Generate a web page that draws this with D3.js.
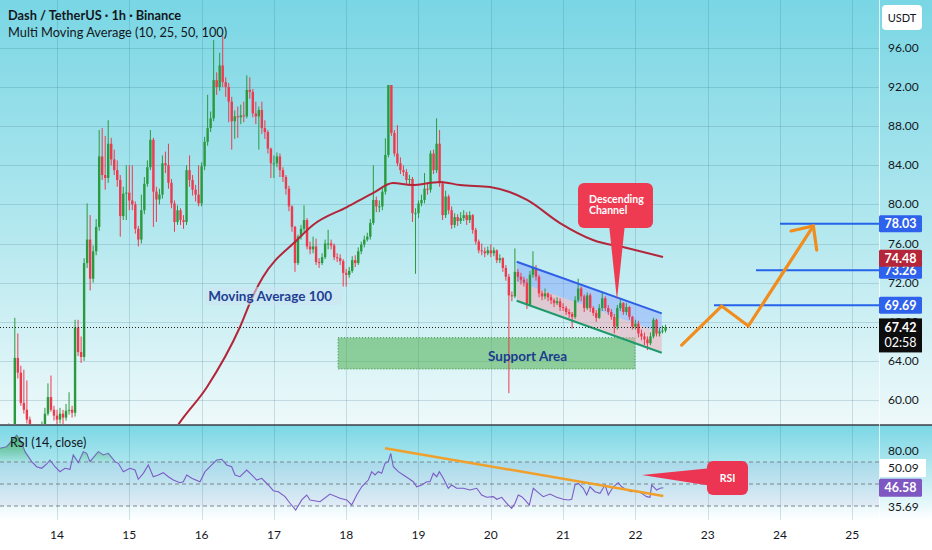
<!DOCTYPE html>
<html>
<head>
<meta charset="utf-8">
<script src="https://cdn.jsdelivr.net/npm/d3@7"></script>
<style>
html, body { margin: 0; padding: 0; background: #fff; overflow: hidden; }
svg { display: block; font-family: Lato, "Noto Sans", sans-serif; }
</style>
</head>
<body>
<svg id="chart" width="932" height="550"></svg>
<script>
// time is in days of the month (14 = day 14, 00:00), one candle per hour
const startTime = 13 + 5 / 24;
const firstOpen = 56.8;

const closes = [
  // day 13 (05:00 - 23:00)
  56.5, 57.0, 56.8, 57.2, 57.0, 64.3, 62.8, 59.7, 59.0, 58.0, 57.0, 56.5, 56.2, 56.8, 57.2, 58.6, 60.3, 59.0, 58.4,
  // day 14
  58.0, 58.6, 58.2, 58.9, 59.0, 58.7, 67.4, 64.9, 64.4, 74.0, 76.4, 72.4, 75.2, 77.7, 84.9, 83.0, 82.7, 86.2, 84.6, 83.5, 82.5, 78.8, 81.1, 81.2,
  // day 15
  80.4, 80.0, 77.5, 76.4, 79.4, 82.1, 83.8, 86.6, 81.3, 80.5, 81.0, 84.2, 84.0, 82.2, 80.1, 78.2, 79.4, 78.4, 78.2, 83.5, 82.5, 81.5, 81.0, 80.1,
  // day 16
  83.9, 86.4, 87.8, 88.8, 92.7, 92.0, 94.2, 92.5, 92.0, 90.5, 88.5, 89.0, 88.9, 89.1, 89.0, 91.7, 91.5, 89.3, 89.0, 89.65, 87.8, 87.4, 85.7, 84.2,
  // day 17
  84.2, 84.9, 83.5, 82.8, 81.6, 79.8, 77.7, 74.0, 76.7, 77.5, 78.4, 75.7, 75.4, 75.7, 74.1, 74.0, 74.6, 76.0, 76.0, 75.8, 74.6, 74.5, 74.2, 73.0,
  // day 18
  72.8, 73.2, 74.3, 74.0, 75.2, 75.9, 76.4, 76.7, 78.1, 80.45, 79.8, 79.8, 81.3, 85.05, 92.2, 87.3, 85.2, 84.2, 83.5, 83.3, 82.5, 82.6, 79.1, 79.1,
  // day 19
  80.1, 80.45, 81.6, 81.5, 85.2, 83.5, 86.2, 82.15, 78.9, 80.8, 79.4, 77.9, 78.7, 78.3, 78.6, 78.9, 78.4, 78.9, 77.4, 76.2, 75.3, 75.2, 75.0, 75.3,
  // day 20
  75.0, 75.3, 74.3, 74.5, 73.5, 72.6, 70.7, 70.6, 73.1, 72.6, 72.3, 72.0, 69.7, 72.8, 73.5, 72.6, 70.9, 70.6, 70.9, 70.5, 70.2, 69.9, 70.1, 69.5,
  // day 21
  69.4, 69.0, 68.8, 68.5, 70.2, 71.4, 70.6, 69.4, 70.7, 69.4, 68.9, 68.4, 69.4, 70.4, 69.4, 69.0, 68.5, 67.5, 69.4, 69.9, 69.0, 69.5, 68.5, 67.5,
  // day 22 (00:00 - 10:00)
  67.8, 66.8, 66.5, 66.2, 65.8, 66.5, 68.2, 66.8, 67.0, 67.1, 67.42
];
const highs = [
  57.2, 57.4, 57.3, 57.6, 57.5, 68.4, 66.8, 63.5, 63.1, 62.0, 58.3, 57.3, 56.8, 57.2, 57.8, 59.2, 61.7, 62.5, 59.4,
  59.0, 59.2, 59.0, 59.6, 60.8, 59.4, 68.2, 68.2, 66.5, 74.5, 80.1, 78.9, 75.8, 78.5, 87.6, 87.8, 87.0, 88.6, 86.8, 85.6, 84.5, 83.0, 81.8, 84.0,
  84.0, 84.0, 80.3, 77.8, 81.0, 82.8, 84.5, 87.6, 86.8, 81.8, 81.6, 85.0, 85.4, 86.2, 82.6, 80.4, 79.9, 79.6, 78.9, 84.0, 85.0, 83.0, 82.0, 84.0,
  84.3, 86.9, 91.2, 89.5, 96.8, 93.5, 95.5, 97.2, 93.0, 92.4, 91.0, 89.6, 90.0, 90.2, 90.5, 93.2, 93.0, 91.8, 90.5, 90.0, 90.5, 88.6, 87.6, 85.8,
  85.0, 85.3, 85.2, 83.8, 83.0, 81.9, 79.9, 77.8, 76.9, 77.9, 79.9, 78.6, 76.2, 76.7, 76.5, 74.5, 75.0, 76.4, 77.4, 76.4, 76.0, 75.0, 74.9, 74.4,
  73.4, 73.6, 74.7, 74.8, 75.6, 76.2, 76.8, 77.1, 78.5, 84.0, 80.8, 80.4, 81.8, 86.75, 92.2, 92.2, 87.6, 88.1, 84.8, 84.0, 83.6, 83.0, 82.8, 79.6,
  80.4, 81.0, 83.2, 82.2, 85.5, 85.6, 88.8, 87.6, 82.4, 81.4, 81.0, 79.8, 79.1, 79.0, 79.2, 79.4, 79.2, 79.3, 79.0, 77.6, 76.4, 76.0, 75.6, 75.7,
  75.9, 75.6, 75.4, 74.9, 74.6, 73.8, 72.9, 71.1, 75.5, 73.4, 73.0, 72.6, 72.4, 73.2, 75.2, 73.8, 72.8, 71.2, 71.4, 71.0, 70.8, 70.4, 70.5, 70.4,
  69.9, 69.6, 69.3, 69.0, 70.6, 72.4, 71.6, 70.8, 71.0, 70.9, 69.6, 69.2, 69.8, 71.1, 70.6, 69.7, 69.3, 68.8, 69.7, 70.4, 70.0, 69.9, 69.6, 68.6,
  68.2, 68.1, 67.2, 66.9, 66.5, 66.9, 68.4, 68.3, 67.4, 67.6, 67.7
];
const lows = [
  56.0, 56.3, 56.5, 56.6, 56.8, 56.8, 62.2, 59.4, 58.6, 57.6, 56.6, 56.2, 55.9, 56.0, 56.6, 57.0, 58.4, 58.8, 57.9,
  57.3, 57.6, 57.4, 57.9, 58.5, 58.2, 58.3, 64.5, 63.8, 64.0, 73.5, 71.2, 72.0, 74.8, 77.3, 82.5, 81.5, 82.2, 84.0, 83.0, 81.8, 76.7, 78.4, 78.4,
  79.4, 79.4, 77.0, 75.7, 76.0, 79.0, 81.8, 83.5, 77.7, 78.2, 80.0, 80.6, 83.2, 81.6, 79.6, 77.2, 77.9, 77.9, 77.5, 77.9, 81.8, 80.9, 80.3, 79.8,
  79.8, 83.5, 86.0, 87.4, 88.5, 91.2, 91.6, 92.0, 91.0, 88.4, 85.6, 86.7, 86.8, 88.2, 88.4, 88.8, 90.8, 88.9, 88.2, 85.6, 87.2, 86.7, 85.2, 82.7,
  82.7, 83.8, 82.8, 82.3, 81.0, 79.3, 77.2, 73.1, 73.8, 76.4, 77.2, 75.4, 74.9, 75.0, 73.8, 73.5, 73.8, 74.4, 75.4, 75.4, 74.3, 74.1, 73.8, 71.6,
  71.6, 72.5, 73.0, 73.6, 73.8, 74.9, 75.6, 76.2, 76.4, 77.9, 79.2, 79.2, 79.4, 81.0, 84.8, 87.0, 84.9, 83.9, 83.1, 82.9, 82.1, 81.9, 78.2, 72.9,
  78.6, 79.8, 80.1, 81.0, 81.2, 83.1, 83.2, 81.8, 78.4, 78.6, 79.0, 77.5, 77.6, 77.8, 78.0, 78.3, 77.9, 78.1, 77.0, 75.9, 75.0, 74.8, 74.6, 74.8,
  74.6, 74.7, 74.0, 74.0, 73.1, 72.2, 60.7, 70.1, 70.4, 72.1, 71.8, 71.6, 69.3, 69.6, 72.5, 72.2, 70.5, 70.2, 70.3, 70.1, 69.8, 69.5, 69.7, 69.1,
  69.1, 68.7, 68.4, 67.3, 68.3, 70.0, 70.1, 69.0, 69.2, 69.0, 68.6, 68.0, 68.3, 69.1, 69.1, 68.7, 68.2, 66.8, 67.2, 69.1, 68.7, 68.7, 68.2, 67.2,
  67.2, 66.4, 66.1, 65.6, 65.1, 65.6, 66.3, 66.5, 66.5, 66.8, 66.9
];

// Moving Average 100
const maTimes  = [15.55, 15.674, 16.075, 16.531, 16.716, 16.849, 17.320, 17.541, 18.011, 18.371, 18.647, 18.910, 19.297, 19.574, 19.989, 20.501, 20.957, 21.413, 21.884, 22.382];
const maValues = [56.0, 57.44, 61.33, 67.46, 70.74, 72.57, 76.36, 77.89, 79.73, 81.16, 82.18, 81.98, 82.29, 81.98, 81.78, 80.45, 78.09, 76.36, 75.54, 74.62];

// RSI (14, close)
const rsiTimes = [13.212, 13.304, 13.443, 13.512, 13.557, 13.650, 13.719, 13.788, 13.858, 13.903, 13.972, 14.041, 14.111, 14.180, 14.225, 14.295, 14.364, 14.411, 14.456, 14.571, 14.640, 14.710, 14.802, 14.848, 14.917, 15.010, 15.079, 15.124, 15.194, 15.263, 15.332, 15.401, 15.470, 15.539, 15.609, 15.701, 15.747, 15.794, 15.863, 15.978, 16.047, 16.140, 16.209, 16.278, 16.347, 16.416, 16.462, 16.531, 16.624, 16.693, 16.762, 16.831, 16.923, 16.992, 17.061, 17.154, 17.223, 17.302, 17.385, 17.454, 17.500, 17.638, 17.776, 17.914, 18.007, 18.076, 18.145, 18.214, 18.260, 18.306, 18.353, 18.398, 18.444, 18.491, 18.537, 18.582, 18.616, 18.652, 18.721, 18.790, 18.859, 18.928, 18.975, 19.044, 19.113, 19.159, 19.205, 19.252, 19.288, 19.343, 19.412, 19.459, 19.528, 19.620, 19.712, 19.805, 19.874, 19.943, 20.035, 20.082, 20.151, 20.242, 20.289, 20.335, 20.380, 20.427, 20.473, 20.532, 20.588, 20.657, 20.726, 20.819, 20.911, 21.003, 21.072, 21.119, 21.165, 21.210, 21.279, 21.326, 21.372, 21.441, 21.510, 21.580, 21.625, 21.694, 21.763, 21.810, 21.880, 21.949, 22.018, 22.087, 22.156, 22.202, 22.225, 22.295, 22.340, 22.386];
const rsiValues = [82.5, 83.9, 94.5, 87.3, 79.4, 70.3, 65.7, 64.3, 68.2, 71.8, 65.7, 61.2, 64.3, 63.4, 76.4, 69.4, 79.4, 77.9, 70.3, 79.4, 76.4, 77.9, 70.3, 68.8, 61.2, 64.3, 62.7, 54.3, 59.7, 67.3, 56.6, 58.2, 60.3, 56.6, 53.6, 51.2, 52.1, 58.2, 55.2, 52.1, 61.2, 67.3, 71.8, 72.5, 67.3, 65.7, 58.2, 56.6, 62.7, 58.2, 53.6, 55.2, 49.1, 43.9, 43.0, 38.5, 32.5, 26.4, 35.5, 40.0, 35.5, 33.9, 40.9, 37.0, 35.5, 30.9, 40.0, 47.5, 50.6, 53.6, 61.2, 58.2, 61.2, 59.7, 68.8, 70.3, 77.9, 65.7, 61.2, 58.2, 55.2, 52.1, 47.5, 49.1, 52.1, 52.1, 59.7, 56.6, 61.2, 55.2, 46.1, 49.1, 46.1, 46.1, 44.5, 46.1, 40.0, 37.9, 38.5, 36.1, 37.9, 30.9, 27.9, 32.5, 40.0, 38.5, 35.5, 30.9, 46.1, 42.1, 38.5, 40.9, 37.9, 36.1, 35.5, 36.1, 49.1, 50.6, 46.1, 40.0, 47.5, 43.0, 41.5, 49.1, 40.0, 47.5, 51.2, 47.5, 44.5, 43.0, 43.9, 41.5, 38.5, 37.9, 49.1, 44.5, 46.1, 46.6];

const priceTicks = [96, 92, 88, 84, 80, 76, 72, 68, 64, 60];
const dayTicks = [14, 15, 16, 17, 18, 19, 20, 21, 22, 23, 24, 25];
const rsiBands = [70, 50, 30];
const rsiAxisLabels = [["80.00", 80], ["35.69", 29.5]];

// drawn objects (time, price)
const supportArea = { t0: 17.887, t1: 21.995, p0: 63.17, p1: 66.37 };
const channelTop = [[20.358, 74.14], [22.364, 68.86]];
const channelBottom = [[20.358, 70.15], [22.364, 64.83]];
const projection = [[22.640, 65.62], [23.193, 69.61], [23.562, 67.56], [24.461, 77.79]];
const arrowHead = [[24.152, 77.28], [24.461, 77.79], [24.508, 75.33]];
const targetLevels = [{ value: 78.03, from: 24.0 }, { value: 73.26, from: 23.668 }, { value: 69.69, from: 23.087 }];
const rsiTrend = [[18.537, 82.5], [22.386, 39.1]];
const lastPrice = 67.42, maLast = 74.48, rsiLast = 46.58;

const W = 932, H = 550;
const axisX = 879, paneBottom = 425, rsiTop = 427, rsiBottom = 520;
const green = "#2b9a3e", red = "#ee3a4e";

const svg = d3.select("#chart");
const defs = svg.append("defs");

const x = d3.scaleLinear().domain([14, 25]).range([57, 852.3]);
const y = d3.scaleLinear().domain([60, 92]).range([400, 87]);
const yR = d3.scaleLinear().domain([30, 70]).range([506, 462]);

// backgrounds
const g1 = defs.append("linearGradient").attr("id", "bgMain").attr("x1", 0).attr("y1", 0).attr("x2", 0).attr("y2", 1);
g1.append("stop").attr("offset", "0%").attr("stop-color", "#79d6e4");
g1.append("stop").attr("offset", "55%").attr("stop-color", "#b4e8ef");
g1.append("stop").attr("offset", "100%").attr("stop-color", "#eef9fa");
const g2 = defs.append("linearGradient").attr("id", "bgRsi").attr("x1", 0).attr("y1", 0).attr("x2", 0).attr("y2", 1);
g2.append("stop").attr("offset", "0%").attr("stop-color", "#7ad7e5");
g2.append("stop").attr("offset", "60%").attr("stop-color", "#c6eef3");
g2.append("stop").attr("offset", "100%").attr("stop-color", "#ffffff");
const g3 = defs.append("linearGradient").attr("id", "overbought").attr("gradientUnits", "userSpaceOnUse")
  .attr("x1", 0).attr("x2", 0).attr("y1", yR(95)).attr("y2", yR(70));
g3.append("stop").attr("offset", "0%").attr("stop-color", "#3caa50").attr("stop-opacity", 0.85);
g3.append("stop").attr("offset", "100%").attr("stop-color", "#3caa50").attr("stop-opacity", 0.05);

svg.append("rect").attr("width", W).attr("height", H).attr("fill", "#fff");
svg.append("rect").attr("width", W).attr("height", paneBottom).attr("fill", "url(#bgMain)");
svg.append("rect").attr("y", paneBottom).attr("width", W).attr("height", rsiBottom - paneBottom).attr("fill", "url(#bgRsi)");

defs.append("clipPath").attr("id", "clipMain").append("rect").attr("width", axisX).attr("height", paneBottom - 1);
defs.append("clipPath").attr("id", "clipRsi").append("rect").attr("y", rsiTop).attr("width", axisX).attr("height", rsiBottom - rsiTop);
defs.append("clipPath").attr("id", "clipOver").append("rect").attr("y", rsiTop).attr("width", axisX).attr("height", yR(70) - rsiTop);

// grid
const grid = svg.append("g").attr("stroke", "rgba(50,110,130,0.2)").attr("stroke-width", 1);
grid.selectAll(".h").data(priceTicks).join("line")
  .attr("x1", 0).attr("x2", axisX).attr("y1", d => Math.round(y(d)) + 0.5).attr("y2", d => Math.round(y(d)) + 0.5);
grid.selectAll(".v").data(dayTicks).join("line")
  .attr("x1", d => Math.round(x(d)) + 0.5).attr("x2", d => Math.round(x(d)) + 0.5).attr("y1", 0).attr("y2", rsiBottom);

const main = svg.append("g").attr("clip-path", "url(#clipMain)");

// support area
main.append("rect")
  .attr("x", x(supportArea.t0)).attr("y", y(supportArea.p1))
  .attr("width", x(supportArea.t1) - x(supportArea.t0)).attr("height", y(supportArea.p0) - y(supportArea.p1))
  .attr("fill", "rgba(76,175,80,0.55)").attr("stroke", "#3f8f45").attr("stroke-width", 1).attr("stroke-dasharray", "1,2");

// descending channel fills
const mid = channelTop.map((d, i) => [d[0], (d[1] + channelBottom[i][1]) / 2]);
const poly = pts => pts.map(d => [x(d[0]), y(d[1])].join(",")).join(" ");
main.append("polygon").attr("points", poly([channelTop[0], channelTop[1], mid[1], mid[0]])).attr("fill", "rgba(110,145,255,0.38)");
main.append("polygon").attr("points", poly([mid[0], mid[1], channelBottom[1], channelBottom[0]])).attr("fill", "rgba(242,165,180,0.5)");

// candles
const candles = closes.map((c, i) => ({
  t: startTime + i / 24,
  o: i === 0 ? firstOpen : closes[i - 1],
  c, h: highs[i], l: lows[i]
}));
const cg = main.append("g");
cg.selectAll("line").data(candles).join("line")
  .attr("x1", d => x(d.t)).attr("x2", d => x(d.t))
  .attr("y1", d => y(d.h)).attr("y2", d => y(d.l))
  .attr("stroke", d => d.c >= d.o ? green : red).attr("stroke-width", 1);
cg.selectAll("rect").data(candles).join("rect")
  .attr("x", d => x(d.t) - 1.2).attr("width", 2.4)
  .attr("y", d => y(Math.max(d.o, d.c)))
  .attr("height", d => Math.max(1, Math.abs(y(d.o) - y(d.c))))
  .attr("fill", d => d.c >= d.o ? green : red);

// moving average 100
main.append("path")
  .datum(maTimes.map((t, i) => [t, maValues[i]]))
  .attr("d", d3.line().x(d => x(d[0])).y(d => y(d[1])).curve(d3.curveMonotoneX))
  .attr("fill", "none").attr("stroke", "#b3263a").attr("stroke-width", 2);

// channel borders
const seg = d3.line().x(d => x(d[0])).y(d => y(d[1]));
main.append("path").attr("d", seg(channelTop)).attr("stroke", "#2f5fe6").attr("stroke-width", 2).attr("fill", "none");
main.append("path").attr("d", seg(channelBottom)).attr("stroke", "#1f9a6a").attr("stroke-width", 2).attr("fill", "none");

// last price dotted line
main.append("line").attr("x1", 0).attr("x2", axisX).attr("y1", Math.round(y(lastPrice)) + 0.5).attr("y2", Math.round(y(lastPrice)) + 0.5)
  .attr("stroke", "#222").attr("stroke-width", 1).attr("stroke-dasharray", "1,2");

// target levels
main.selectAll(".lvl").data(targetLevels).join("line")
  .attr("x1", d => x(d.from)).attr("x2", axisX).attr("y1", d => y(d.value)).attr("y2", d => y(d.value))
  .attr("stroke", "#2563eb").attr("stroke-width", 2);

// projected move
main.append("path").attr("d", seg(projection)).attr("fill", "none").attr("stroke", "#f28c1c").attr("stroke-width", 3.2)
  .attr("stroke-linejoin", "miter").attr("stroke-linecap", "round");
main.append("path").attr("d", seg(arrowHead)).attr("fill", "none").attr("stroke", "#f28c1c").attr("stroke-width", 3.2)
  .attr("stroke-linejoin", "miter").attr("stroke-linecap", "round");

// labels on the chart
const maLbl = main.append("g");
maLbl.append("rect").attr("x", x(16.05)).attr("y", 287).attr("width", 137).attr("height", 18).attr("rx", 2)
  .attr("fill", "rgba(205,228,240,0.55)");
maLbl.append("text").attr("x", x(16.05) + 3).attr("y", 301).text("Moving Average 100")
  .attr("font-size", 13.5).attr("font-weight", 700).attr("fill", "#1f3f95");
main.append("text").attr("x", 488).attr("y", 361).text("Support Area")
  .attr("font-size", 13.5).attr("font-weight", 700).attr("fill", "#1d3b8f");

// descending channel callout
const tipX = x(21.745), tipY = y(70.22);
main.append("path")
  .attr("d", `M${tipX - 8},224 L${tipX},${tipY} L${tipX + 8},224 Z`).attr("fill", "#ef3b52");
main.append("rect").attr("x", 578).attr("y", 183).attr("width", 75).attr("height", 45).attr("rx", 6).attr("fill", "#ef3b52");
main.append("text").attr("x", 589).attr("y", 203).text("Descending").attr("font-size", 10.5).attr("font-weight", 700).attr("fill", "#fff");
main.append("text").attr("x", 589).attr("y", 214).text("Channel").attr("font-size", 10.5).attr("font-weight", 700).attr("fill", "#fff");

// header
svg.append("text").attr("x", 8).attr("y", 20).text("Dash / TetherUS · 1h · Binance")
  .attr("font-size", 12.8).attr("font-weight", 700).attr("fill", "#131722");
svg.append("text").attr("x", 8).attr("y", 37).text("Multi Moving Average (10, 25, 50, 100)")
  .attr("font-size", 12.8).attr("fill", "#131722");

// pane separator
svg.append("line").attr("x1", 0).attr("x2", W).attr("y1", paneBottom).attr("y2", paneBottom).attr("stroke", "#3b3f46").attr("stroke-width", 1.6);

// RSI pane
const rsi = svg.append("g").attr("clip-path", "url(#clipRsi)");
rsi.append("rect").attr("x", 0).attr("width", axisX).attr("y", yR(70)).attr("height", yR(30) - yR(70)).attr("fill", "rgba(126,87,194,0.08)");
rsi.selectAll(".band").data(rsiBands).join("line")
  .attr("x1", 0).attr("x2", axisX).attr("y1", d => yR(d)).attr("y2", d => yR(d))
  .attr("stroke", "#7d838e").attr("stroke-width", 1).attr("stroke-dasharray", "4,3");
const rsiPts = rsiTimes.map((t, i) => [t, rsiValues[i]]);
svg.append("path").datum(rsiPts).attr("clip-path", "url(#clipOver)")
  .attr("d", d3.area().x(d => x(d[0])).y0(yR(70)).y1(d => yR(d[1])))
  .attr("fill", "url(#overbought)");
rsi.append("path").datum(rsiPts)
  .attr("d", d3.line().x(d => x(d[0])).y(d => yR(d[1])))
  .attr("fill", "none").attr("stroke", "#7b5cc6").attr("stroke-width", 1.1);
rsi.append("path").attr("d", d3.line().x(d => x(d[0])).y(d => yR(d[1]))(rsiTrend))
  .attr("stroke", "#f0a02a").attr("stroke-width", 2.5).attr("fill", "none");

// RSI callout
const rTipX = x(22.09), rTipY = yR(58.2);
svg.append("path").attr("d", `M${rTipX},${rTipY} L712,468 L712,486 Z`).attr("fill", "#ec3552");
svg.append("rect").attr("x", 707).attr("y", 461).attr("width", 41).attr("height", 34).attr("rx", 6).attr("fill", "#ec3552");
svg.append("text").attr("x", 727.5).attr("y", 482).attr("text-anchor", "middle").text("RSI")
  .attr("font-size", 10.5).attr("font-weight", 700).attr("fill", "#fff");
svg.append("text").attr("x", 10).attr("y", 447).text("RSI (14, close)").attr("font-size", 12.5).attr("fill", "#131722");

// price axis
svg.append("line").attr("x1", axisX + 0.5).attr("x2", axisX + 0.5).attr("y1", 0).attr("y2", rsiBottom)
  .attr("stroke", "rgba(255,255,255,0.7)");
svg.selectAll(".ptick").data(priceTicks).join("text")
  .attr("x", 888).attr("y", d => y(d) + 4).text(d => d.toFixed(2))
  .attr("font-size", 12).attr("fill", "#131722");

svg.append("rect").attr("x", 882).attr("y", 5).attr("width", 40).attr("height", 25).attr("rx", 4).attr("fill", "#fff");
svg.append("text").attr("x", 902).attr("y", 22).attr("text-anchor", "middle").text("USDT").attr("font-size", 11).attr("fill", "#131722");

const tags = [
  ...targetLevels.map(d => ({ v: d.value, fill: "#2f62ec" })),
  { v: maLast, fill: "#b5263a" }
];
const tg = svg.selectAll(".tag").data(tags).join("g").attr("transform", d => `translate(${axisX},${y(d.v)})`);
tg.append("rect").attr("x", 0).attr("y", -8.5).attr("width", 43).attr("height", 17).attr("rx", 1.5).attr("fill", d => d.fill);
tg.append("text").attr("x", 21.5).attr("y", 4.5).attr("text-anchor", "middle").text(d => d.v.toFixed(2))
  .attr("font-size", 12.5).attr("font-weight", 700).attr("fill", "#fff");

const ly = y(lastPrice);
svg.append("rect").attr("x", axisX).attr("y", ly - 9).attr("width", 43).attr("height", 34).attr("fill", "#0d0d0d");
svg.append("text").attr("x", axisX + 21.5).attr("y", ly + 4.5).attr("text-anchor", "middle").text(lastPrice.toFixed(2))
  .attr("font-size", 12.5).attr("font-weight", 700).attr("fill", "#fff");
svg.append("text").attr("x", axisX + 21.5).attr("y", ly + 20).attr("text-anchor", "middle").text("02:58")
  .attr("font-size", 12.5).attr("fill", "#fff");

// RSI axis labels
svg.append("rect").attr("x", axisX + 1).attr("y", 459).attr("width", 46).attr("height", 18).attr("fill", "#fff");
svg.append("text").attr("x", 888).attr("y", 472).text("50.09").attr("font-size", 12).attr("fill", "#131722");
svg.selectAll(".rtick").data(rsiAxisLabels).join("text")
  .attr("x", 888).attr("y", d => yR(d[1]) + 4).text(d => d[0]).attr("font-size", 12).attr("fill", "#131722");
svg.append("rect").attr("x", axisX).attr("y", yR(rsiLast) - 9).attr("width", 43).attr("height", 18).attr("rx", 1.5).attr("fill", "#7e57c2");
svg.append("text").attr("x", axisX + 21.5).attr("y", yR(rsiLast) + 4.5).attr("text-anchor", "middle").text(rsiLast.toFixed(2))
  .attr("font-size", 12.5).attr("font-weight", 700).attr("fill", "#fff");

// time axis
svg.selectAll(".dtick").data(dayTicks).join("text")
  .attr("x", d => x(d)).attr("y", 539).attr("text-anchor", "middle").text(d => d)
  .attr("font-size", 12).attr("fill", "#131722");
</script>
</body>
</html>
